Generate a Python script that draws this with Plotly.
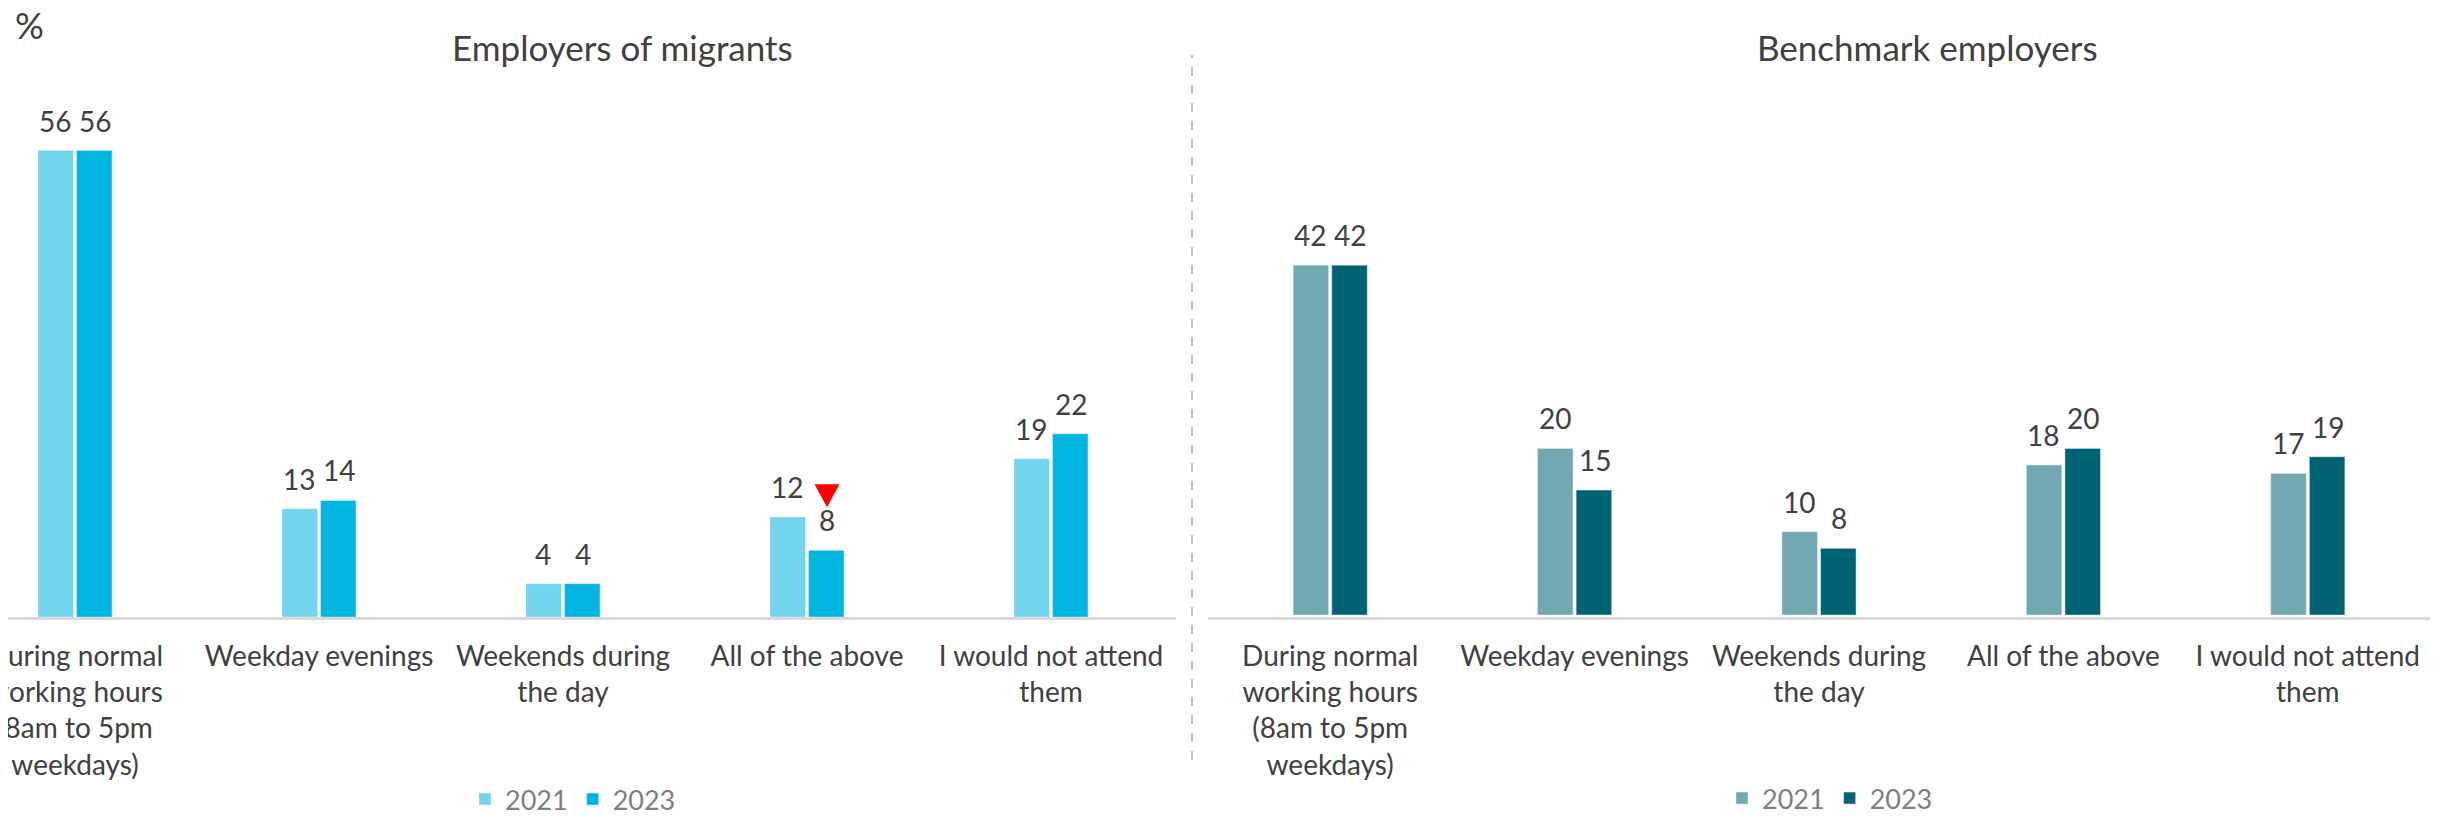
import plotly.graph_objects as go

categories = [
    "During normal<br>working hours<br>(8am to 5pm<br>weekdays)",
    "Weekday evenings",
    "Weekends during<br>the day",
    "All of the above",
    "I would not attend<br>them",
]
years = ["2021", "2023"]
migrants_2021 = [56, 13, 4, 12, 19]
migrants_2023 = [56, 14, 4, 8, 22]
benchmark_2021 = [42, 20, 10, 18, 17]
benchmark_2023 = [42, 15, 8, 20, 19]
# significant decrease flags for 2023 vs 2021 (employers of migrants)
migrants_sig_down = [False, False, False, True, False]

panel_titles = ["Employers of migrants", "Benchmark employers"]

C_LIGHT_CYAN = "#71D5EE"
C_CYAN = "#00B5E0"
C_LIGHT_TEAL = "#71A8B1"
C_TEAL = "#006373"
TXT = "#404040"
FONT = "Lato"

# page has an 8px body margin: draw the figure inside it
PAGE_W, PAGE_H, OFF = 2453, 822, 8
W, H = PAGE_W - 2 * OFF, PAGE_H - 2 * OFF

def px(x):   # page pixel -> paper x
    return (x - OFF) / W

def py(y):   # page pixel -> paper y
    return 1 - (y - OFF) / H

fig = go.Figure()

fig.add_trace(go.Bar(x=categories, y=migrants_2021, name=years[0], marker_color=C_LIGHT_CYAN,
                     xaxis="x", yaxis="y", legend="legend"))
fig.add_trace(go.Bar(x=categories, y=migrants_2023, name=years[1], marker_color=C_CYAN,
                     xaxis="x", yaxis="y", legend="legend"))
fig.add_trace(go.Bar(x=categories, y=benchmark_2021, name=years[0], marker_color=C_LIGHT_TEAL,
                     xaxis="x2", yaxis="y2", legend="legend2"))
fig.add_trace(go.Bar(x=categories, y=benchmark_2023, name=years[1], marker_color=C_TEAL,
                     xaxis="x2", yaxis="y2", legend="legend2"))

annotations = []
def add_labels(vals, xref, yref, shift):
    for c, v in zip(categories, vals):
        annotations.append(dict(x=c, y=v, xref=xref, yref=yref, text=str(v), showarrow=False,
                                xshift=shift, yshift=30, yanchor="middle",
                                font=dict(family=FONT, size=28, color=TXT)))

add_labels(migrants_2021, "x", "y", -20)
add_labels(migrants_2023, "x", "y", 20)
add_labels(benchmark_2021, "x2", "y2", -20)
add_labels(benchmark_2023, "x2", "y2", 20)

shapes = []
for i, (v, flag) in enumerate(zip(migrants_2023, migrants_sig_down)):
    if flag:
        shapes.append(dict(type="path", xref="x", yref="y", xsizemode="pixel", ysizemode="pixel",
                           xanchor=i, yanchor=v, path="M 7.5,66 L 32.5,66 L 20,43 Z",
                           fillcolor="#FF0000", line=dict(width=0)))

annotations.append(dict(x=px(622), y=py(47), xref="paper", yref="paper", text=panel_titles[0],
                        showarrow=False, xanchor="center", yanchor="middle",
                        font=dict(family=FONT, size=35, color=TXT)))
annotations.append(dict(x=px(1927), y=py(47), xref="paper", yref="paper", text=panel_titles[1],
                        showarrow=False, xanchor="center", yanchor="middle",
                        font=dict(family=FONT, size=35, color=TXT)))
annotations.append(dict(x=px(29), y=py(25), xref="paper", yref="paper", text="%",
                        showarrow=False, xanchor="center", yanchor="middle",
                        font=dict(family=FONT, size=36, color=TXT)))

shapes.append(dict(type="line", xref="paper", yref="paper", x0=px(1192), x1=px(1192),
                   y0=py(760), y1=py(55), line=dict(color="#BFBFBF", width=2, dash="dash")))

xaxis_common = dict(type="category", showline=True, linecolor="#D9D9D9", linewidth=3,
                    showgrid=False, zeroline=False, ticks="", automargin=False,
                    ticklabelstandoff=12,
                    tickfont=dict(family=FONT, size=28, color=TXT), fixedrange=True)
yaxis_common = dict(visible=False, range=[0, 70], showgrid=False, zeroline=False, automargin=False)

CAT_W = 244.0
# left panel: category 0 centred at page x=75, plot area starts at the page's left edge
left_x0, left_x1 = OFF, 1176
left_range = [(left_x0 - 75) / CAT_W, (left_x1 - 75) / CAT_W]

fig.update_layout(
    width=W, height=H,
    margin=dict(l=0, r=0, t=0, b=0, autoexpand=False),
    paper_bgcolor="white", plot_bgcolor="white",
    barmode="group", bargap=0.684, bargroupgap=0.08,
    showlegend=True,
    xaxis=dict(domain=[px(left_x0), px(left_x1)], range=left_range, **xaxis_common),
    xaxis2=dict(domain=[px(1208), px(2430)], range=[-0.5, 4.5], **xaxis_common),
    yaxis=dict(domain=[py(617), py(617 - 70 * 8.33)], anchor="x", **yaxis_common),
    yaxis2=dict(domain=[py(615), py(615 - 70 * 8.33)], anchor="x2", **yaxis_common),
    legend=dict(orientation="h", x=px(573), y=py(824), xanchor="center", yanchor="bottom",
                font=dict(family=FONT, size=27, color="#7F7F7F"), bgcolor="rgba(0,0,0,0)",
                itemwidth=30, borderwidth=0),
    legend2=dict(orientation="h", x=px(1830), y=py(823), xanchor="center", yanchor="bottom",
                 font=dict(family=FONT, size=27, color="#7F7F7F"), bgcolor="rgba(0,0,0,0)",
                 itemwidth=30, borderwidth=0),
    annotations=annotations,
    shapes=shapes,
)

fig.write_html("out.html")
